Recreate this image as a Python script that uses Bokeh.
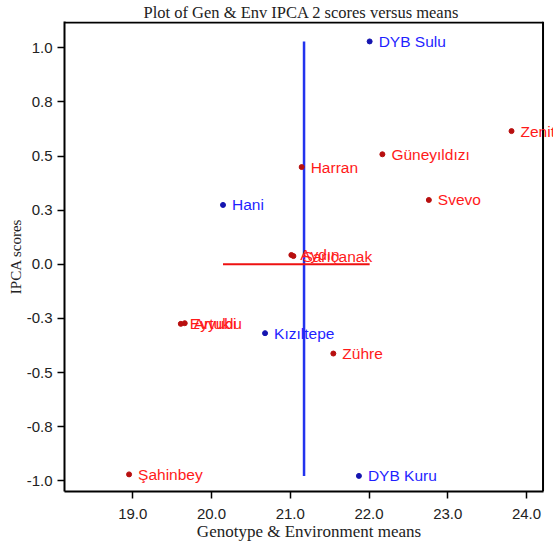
from bokeh.plotting import figure
from bokeh.models import Range1d, FixedTicker, NumeralTickFormatter
from bokeh.core.properties import value
from bokeh.embed import file_html
from bokeh.resources import INLINE

# ---- data ----
gen_names = ["Zenit", "Güneyıldızı", "Harran", "Svevo", "Aydın", "Sarıçanak",
             "Eyyubi", "Artuklu", "Zühre", "Şahinbey"]
gen_means = [23.81, 22.17, 21.145, 22.76, 21.014, 21.04, 19.61, 19.66, 21.547, 18.953]
gen_ipca2 = [0.615, 0.508, 0.449, 0.297, 0.043, 0.038, -0.275, -0.272, -0.412, -0.970]

env_names = ["DYB Sulu", "Hani", "Kızıltepe", "DYB Kuru"]
env_means = [22.008, 20.146, 20.68, 21.872]
env_ipca2 = [1.029, 0.274, -0.318, -0.977]

grand_mean = 21.175

x_ticks = [19, 20, 21, 22, 23, 24]
y_ticks = [-1.0, -0.75, -0.5, -0.25, 0.0, 0.25, 0.5, 0.75, 1.0]
y_tick_labels = ["-1.0", "-0.8", "-0.5", "-0.3", "0.0", "0.3", "0.5", "0.8", "1.0"]

title_text = "Plot of Gen & Env IPCA 2 scores versus means"
x_label = "Genotype & Environment means"
y_label = "IPCA scores"

SERIF = "Liberation Serif"
SANS = "Liberation Sans"

X0, X1 = 18.133, 24.21       # drawn box limits
Y0, Y1 = -1.049, 1.121
X_EDGE = 24.343              # plotting area runs on to the figure's right edge

p = figure(width=553, height=546, output_backend="svg", toolbar_location=None,
           x_range=Range1d(X0, X_EDGE), y_range=Range1d(Y0, Y1),
           min_border_left=64, min_border_right=0, min_border_top=20, min_border_bottom=55)

p.title.text = title_text
p.title.text_font = SERIF
p.title.text_font_size = "16.5px"
p.title.text_font_style = "normal"
p.title.text_color = "#222222"
p.title.align = "left"
p.title.standoff = 0
p.title.offset = 79

p.xgrid.visible = False
p.ygrid.visible = False
p.outline_line_color = None
p.background_fill_color = "white"
p.border_fill_color = "white"

for ax in (p.xaxis[0], p.yaxis[0]):
    ax.axis_line_color = "black"
    ax.axis_line_width = 2
    ax.major_tick_line_color = "black"
    ax.major_tick_line_width = 1.5
    ax.major_tick_out = 7
    ax.major_tick_in = 0
    ax.minor_tick_line_color = None
    ax.major_label_text_font = SANS
    ax.major_label_text_font_size = "15px"
    ax.major_label_text_color = "#222222"
    ax.axis_label_text_font = SERIF
    ax.axis_label_text_font_style = "normal"
    ax.axis_label_text_color = "#222222"

p.xaxis[0].ticker = FixedTicker(ticks=x_ticks)
p.xaxis[0].formatter = NumeralTickFormatter(format="0.0")
p.xaxis[0].major_label_standoff = 10
p.xaxis[0].axis_label = x_label
p.xaxis[0].axis_label_text_font_size = "17px"
p.xaxis[0].axis_label_standoff = 0
p.xaxis[0].bounds = (X0, X1)

p.yaxis[0].ticker = FixedTicker(ticks=y_ticks)
p.yaxis[0].major_label_overrides = {t: l for t, l in zip(y_ticks, y_tick_labels)}
p.yaxis[0].major_label_standoff = 5
p.yaxis[0].axis_label = y_label
p.yaxis[0].axis_label_text_font_size = "15px"
p.yaxis[0].axis_label_standoff = 0

# right and top sides of the box
top_y = Y1 - 1.0 / 216.0
p.segment(x0=[X1, X0], y0=[Y0, top_y], x1=[X1, X1], y1=[Y1, top_y],
          line_color="black", line_width=2)

# reference lines
p.segment(x0=[grand_mean], y0=[min(env_ipca2)], x1=[grand_mean], y1=[max(env_ipca2)],
          line_color="#2233ee", line_width=2.5)
p.segment(x0=[min(env_means)], y0=[0.0], x1=[max(env_means)], y1=[0.0],
          line_color="#ee1111", line_width=2)

# genotypes
p.scatter(gen_means, gen_ipca2, size=5, fill_color="#b80f0f", line_color="#b80f0f")
p.text(gen_means, gen_ipca2, text=gen_names, x_offset=9, text_baseline="middle",
       text_align="left", text_font=value(SANS), text_font_size="15.5px",
       text_color="#ff1a1a")

# environments
p.scatter(env_means, env_ipca2, size=5, fill_color="#1515b0", line_color="#1515b0")
p.text(env_means, env_ipca2, text=env_names, x_offset=9, text_baseline="middle",
       text_align="left", text_font=value(SANS), text_font_size="15.5px",
       text_color="#1f1fff")

open("out.html", "w").write(file_html(p, INLINE))
